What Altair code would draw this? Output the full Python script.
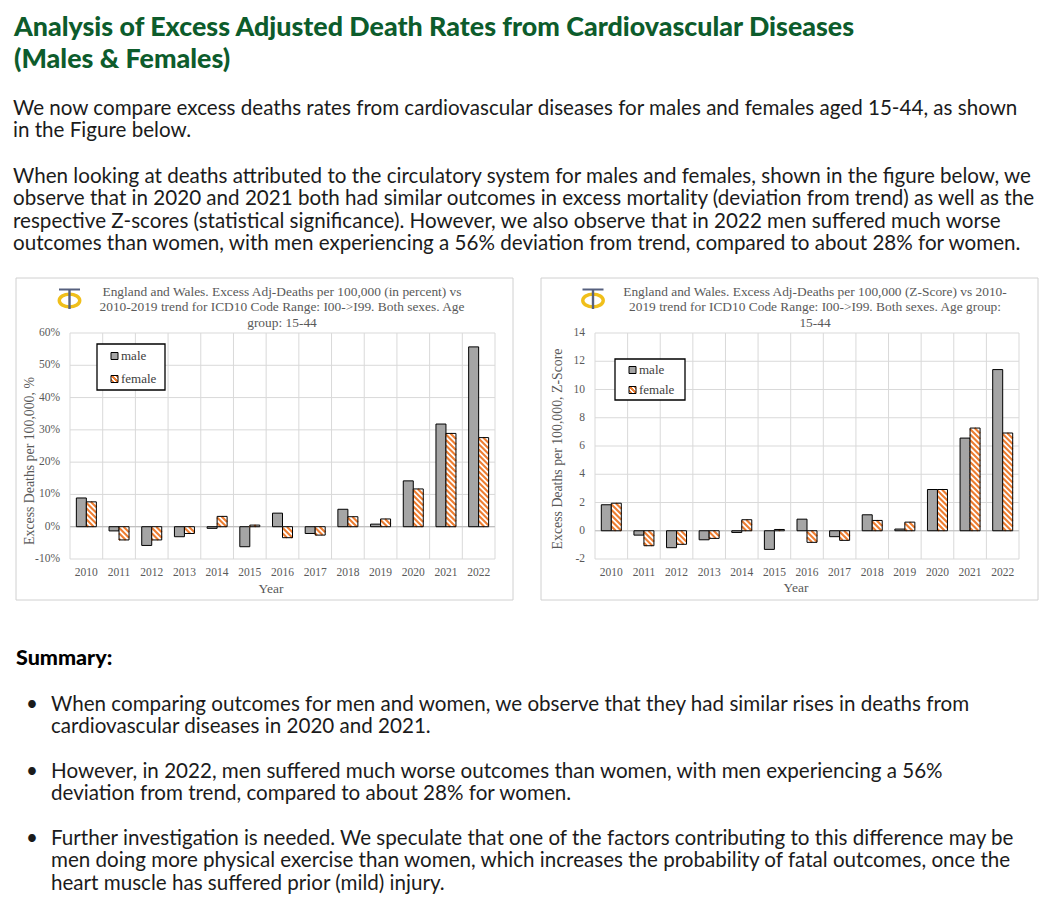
import altair as alt
import pandas as pd

# ---------------- data ----------------
years = list(range(2010, 2023))
sexes = ["male", "female"]
male_pct = [8.9, -1.3, -5.8, -3.1, -0.5, -6.2, 4.2, -2.1, 5.4, 0.8, 14.2, 31.8, 55.7]
female_pct = [7.7, -4.1, -4.1, -2.1, 3.2, 0.5, -3.4, -2.6, 3.1, 2.4, 11.7, 28.9, 27.6]
male_z = [1.84, -0.31, -1.2, -0.64, -0.12, -1.32, 0.82, -0.42, 1.13, 0.12, 2.92, 6.56, 11.41]
female_z = [1.95, -1.06, -0.96, -0.54, 0.78, 0.09, -0.82, -0.68, 0.73, 0.61, 2.92, 7.27, 6.92]
pct_ticks = [-10, 0, 10, 20, 30, 40, 50, 60]
z_ticks = [-2, 0, 2, 4, 6, 8, 10, 12, 14]

heading = ["Analysis of Excess Adjusted Death Rates from Cardiovascular Diseases",
           "(Males & Females)"]
para1 = ["We now compare excess deaths rates from cardiovascular diseases for males and females aged 15-44, as shown",
         "in the Figure below."]
para2 = ["When looking at deaths attributed to the circulatory system for males and females, shown in the figure below, we",
         "observe that in 2020 and 2021 both had similar outcomes in excess mortality (deviation from trend) as well as the",
         "respective Z-scores (statistical significance). However, we also observe that in 2022 men suffered much worse",
         "outcomes than women, with men experiencing a 56% deviation from trend, compared to about 28% for women."]
summary_title = "Summary:"
bullets = [
    ["When comparing outcomes for men and women, we observe that they had similar rises in deaths from",
     "cardiovascular diseases in 2020 and 2021."],
    ["However, in 2022, men suffered much worse outcomes than women, with men experiencing a 56%",
     "deviation from trend, compared to about 28% for women."],
    ["Further investigation is needed. We speculate that one of the factors contributing to this difference may be",
     "men doing more physical exercise than women, which increases the probability of fatal outcomes, once the",
     "heart muscle has suffered prior (mild) injury."],
]
left_title = ["England and Wales. Excess Adj-Deaths per 100,000 (in percent) vs",
              "2010-2019 trend for ICD10 Code Range: I00->I99. Both sexes. Age",
              "group: 15-44"]
right_title = ["England and Wales. Excess Adj-Deaths per 100,000 (Z-Score) vs 2010-",
               "2019 trend for ICD10 Code Range: I00->I99. Both sexes. Age group:",
               "15-44"]
left_ytitle = "Excess Deaths per 100,000, %"
right_ytitle = "Excess Deaths per 100,000, Z-Score"
x_title = "Year"

# ---------------- style ----------------
SERIF = "Liberation Serif"
SANS = "Lato"
GRID = "#d9d9d9"
AXIS_TXT = "#595959"
MALE = "#a5a5a5"
ORANGE = "#ed7d31"
GREEN = "#0d5c2c"
BODY = "#1b1b1b"
GOLD = "#f0bf1a"
NAVY = "#56607e"
BODY_SIZE = 20.6

H = 226
OY = 332
BAR_PX = 10
STRIPE = 5.5
ONE = pd.DataFrame({"_": [0]})


def long_df(m, f):
    n = len(years)
    return pd.DataFrame({
        "year": [str(y) for y in years] * 2,
        "idx": list(range(n)) * 2,
        "sex": [sexes[0]] * n + [sexes[1]] * n,
        "v": list(m) + list(f),
    })


def text_layer(lines, x, y, **kw):
    t = lines if isinstance(lines, str) else (lines if len(lines) > 1 else lines[0])
    return alt.Chart(ONE).mark_text(text=t, **kw).encode(x=alt.value(x), y=alt.value(y))


def rect_layer(x1, y1, x2, y2, **kw):
    return alt.Chart(ONE).mark_rect(**kw).encode(
        x=alt.value(x1), x2=alt.value(x2), y=alt.value(y1), y2=alt.value(y2))


def rule_layer(x1, y1, x2, y2, **kw):
    return alt.Chart(ONE).mark_rule(**kw).encode(
        x=alt.value(x1), x2=alt.value(x2), y=alt.value(y1), y2=alt.value(y2))


HATCH_FILL = {
    "gradient": "linear", "x1": 0, "y1": 1, "x2": 1, "y2": 0,
    "stops": [
        {"offset": 0.0, "color": "white"}, {"offset": 0.12, "color": "white"},
        {"offset": 0.12, "color": ORANGE}, {"offset": 0.3, "color": ORANGE},
        {"offset": 0.3, "color": "white"}, {"offset": 0.45, "color": "white"},
        {"offset": 0.45, "color": ORANGE}, {"offset": 0.62, "color": ORANGE},
        {"offset": 0.62, "color": "white"}, {"offset": 0.78, "color": "white"},
        {"offset": 0.78, "color": ORANGE}, {"offset": 0.95, "color": ORANGE},
        {"offset": 0.95, "color": "white"}, {"offset": 1.0, "color": "white"},
    ],
}


def panel(m, f, ymin, ymax, ticks, suffix, W, ox, titles, title_cx, ytitle, ytitle_xy,
          box, legend_box, swatch_cx, legend_text_x, legend_ys, logo_cx, xtitle_xy, extra=()):
    n = len(years)
    kx = W / n
    ky = H / (ymax - ymin)
    bw = BAR_PX / kx
    df = long_df(m, f)
    xs = alt.Scale(domain=[0, n], nice=False, zero=False)
    ys = alt.Scale(domain=[ymin, ymax], nice=False, zero=False)

    def X(fld):
        return alt.X(fld, type="quantitative", scale=xs, axis=None)

    def Y(fld):
        return alt.Y(fld, type="quantitative", scale=ys, axis=None)

    def px(v):
        return v - ox

    def py(v):
        return v - OY

    base = alt.Chart(df)
    bars = base.transform_calculate(
        xa=f"datum.sex == 'male' ? datum.idx + 0.5 - {bw} : datum.idx + 0.5",
        xb=f"datum.sex == 'male' ? datum.idx + 0.5 : datum.idx + 0.5 + {bw}",
        z0="0",
    )
    tick_df = pd.DataFrame({"t": ticks})

    outer = rect_layer(px(box[0]), py(box[1]), px(box[2]), py(box[3]),
                       fill="white", stroke="#d0d0d0", strokeWidth=1)

    vgrid = alt.Chart(pd.DataFrame({"b": list(range(n + 1))})).mark_rule(
        color=GRID, strokeWidth=1).encode(x=X("b:Q"), y=alt.value(0), y2=alt.value(H))
    hgrid = alt.Chart(tick_df).mark_rule(color=GRID, strokeWidth=1).encode(
        y=Y("t:Q"), x=alt.value(0), x2=alt.value(W))
    ylabels = alt.Chart(tick_df).transform_calculate(lab=f"datum.t + '{suffix}'").mark_text(
        align="right", baseline="middle", font=SERIF, fontSize=11.5, color=AXIS_TXT).encode(
        y=Y("t:Q"), x=alt.value(-10), text="lab:N")
    zero = alt.Chart(tick_df).transform_filter("datum.t == 0").mark_rule(
        color="#bfbfbf", strokeWidth=1.2).encode(y=Y("t:Q"), x=alt.value(0), x2=alt.value(W))

    male_bars = bars.transform_filter("datum.sex == 'male'").mark_rect(
        fill=MALE, stroke="black", strokeWidth=1).encode(
        x=X("xa:Q"), x2="xb:Q", y=Y("v:Q"), y2="z0:Q")
    fem_fill = bars.transform_filter("datum.sex == 'female'").mark_rect(
        fill="white").encode(x=X("xa:Q"), x2="xb:Q", y=Y("v:Q"), y2="z0:Q")
    fem_line = bars.transform_filter("datum.sex == 'female'").mark_rect(
        fillOpacity=0, stroke="black", strokeWidth=1).encode(
        x=X("xa:Q"), x2="xb:Q", y=Y("v:Q"), y2="z0:Q")

    hatch = (base.transform_filter("datum.sex == 'female'")
             .transform_calculate(k="sequence(0, 90)")
             .transform_flatten(["k"])
             .transform_calculate(x0p=f"(datum.idx + 0.5) * {kx}")
             .transform_calculate(x1p=f"datum.x0p + {BAR_PX}")
             .transform_calculate(ytp=f"({ymax} - max(datum.v, 0)) * {ky}")
             .transform_calculate(ybp=f"({ymax} - min(datum.v, 0)) * {ky}")
             .transform_calculate(c=f"datum.ytp - datum.x1p + datum.k * {STRIPE}")
             .transform_calculate(xs_="max(datum.x0p, datum.ytp - datum.c)")
             .transform_calculate(xe_="min(datum.x1p, datum.ybp - datum.c)")
             .transform_filter("datum.xe_ > datum.xs_ + 0.4")
             .transform_calculate(hx1=f"datum.xs_ / {kx}")
             .transform_calculate(hx2=f"datum.xe_ / {kx}")
             .transform_calculate(hy1=f"{ymax} - (datum.xs_ + datum.c) / {ky}")
             .transform_calculate(hy2=f"{ymax} - (datum.xe_ + datum.c) / {ky}")
             .mark_rule(color=ORANGE, strokeWidth=2.1, strokeCap="butt")
             .encode(x=X("hx1:Q"), x2="hx2:Q", y=Y("hy1:Q"), y2="hy2:Q"))

    year_labels = base.transform_filter("datum.sex == 'male'").transform_calculate(
        xc="datum.idx + 0.5").mark_text(
        font=SERIF, fontSize=11.5, color=AXIS_TXT, baseline="middle", align="center").encode(
        x=X("xc:Q"), y=alt.value(py(572)), text="year:N")

    title = text_layer(titles, px(title_cx), py(294.5), font=SERIF, fontSize=13.4,
                       color=AXIS_TXT, align="center", baseline="alphabetic", lineHeight=15.5)
    ytl = text_layer(ytitle, px(ytitle_xy[0]), py(ytitle_xy[1]), font=SERIF, fontSize=13.8,
                     color=AXIS_TXT, angle=270, align="center", baseline="middle")
    xtl = text_layer(x_title, px(xtitle_xy[0]), py(xtitle_xy[1]), font=SERIF, fontSize=13.5,
                     color=AXIS_TXT, align="center", baseline="middle")

    lb = rect_layer(px(legend_box[0]), py(legend_box[1]), px(legend_box[2]), py(legend_box[3]),
                    fill="white", stroke="black", strokeWidth=1.3)
    s = 3.5
    sw_m = rect_layer(px(swatch_cx - s), py(legend_ys[0] - s), px(swatch_cx + s), py(legend_ys[0] + s),
                      fill=MALE, stroke="black", strokeWidth=1)
    sw_f = rect_layer(px(swatch_cx - s), py(legend_ys[1] - s), px(swatch_cx + s), py(legend_ys[1] + s),
                      fill=HATCH_FILL, stroke="black", strokeWidth=1)
    lt_m = text_layer(sexes[0], px(legend_text_x), py(legend_ys[0]), font=SERIF, fontSize=13,
                      color="#404040", align="left", baseline="middle")
    lt_f = text_layer(sexes[1], px(legend_text_x), py(legend_ys[1]), font=SERIF, fontSize=13,
                      color="#404040", align="left", baseline="middle")

    logo_ring = alt.Chart(ONE).mark_point(
        shape="M -1 0 A 1 0.62 0 1 1 1 0 A 1 0.62 0 1 1 -1 0 Z", size=420, filled=False,
        stroke=GOLD, strokeWidth=3.4, opacity=1).encode(x=alt.value(px(logo_cx)), y=alt.value(py(299.5)))
    logo_stem = rule_layer(px(logo_cx), py(288), px(logo_cx), py(308), color=NAVY, strokeWidth=2.4)
    logo_bar = rule_layer(px(logo_cx - 10.5), py(288.5), px(logo_cx + 10.5), py(288.5), color=NAVY, strokeWidth=2)

    layers = list(extra) + [outer, vgrid, hgrid, zero, ylabels, male_bars, fem_fill, hatch, fem_line,
                            year_labels, title, ytl, xtl, lb, sw_m, sw_f, lt_m, lt_f,
                            logo_ring, logo_stem, logo_bar]
    return alt.layer(*layers).properties(width=W, height=H)


# ---------------- page text (drawn in the left panel's frame) ----------------
LOX = 69


def pxl(v):
    return v - LOX


def pyl(v):
    return v - OY


anchor = rect_layer(pxl(8), pyl(8), pxl(9), pyl(9), fill="white", opacity=0)
page_layers = [anchor,
               text_layer(heading, pxl(13), pyl(35), font=SANS, fontSize=26.8, fontWeight=900,
                          color=GREEN, align="left", baseline="alphabetic", lineHeight=32),
               text_layer(para1, pxl(12), pyl(113.5), font=SANS, fontSize=BODY_SIZE, color=BODY,
                          align="left", baseline="alphabetic", lineHeight=22.3),
               text_layer(para2, pxl(12), pyl(182), font=SANS, fontSize=BODY_SIZE, color=BODY,
                          align="left", baseline="alphabetic", lineHeight=22.3),
               text_layer(summary_title, pxl(15), pyl(664), font=SANS, fontSize=21.5, fontWeight=900,
                          color="black", align="left", baseline="alphabetic")]
for lines, b in zip(bullets, [709.5, 777, 844]):
    page_layers.append(text_layer("•", pxl(31), pyl(b), font=SANS, fontSize=BODY_SIZE, color=BODY,
                                  align="center", baseline="alphabetic"))
    page_layers.append(text_layer(lines, pxl(50), pyl(b), font=SANS, fontSize=BODY_SIZE, color=BODY,
                                  align="left", baseline="alphabetic", lineHeight=22.3))

left = panel(male_pct, female_pct, -10, 60, pct_ticks, "%", 425, LOX, left_title, 281,
             left_ytitle, (29, 460), (15, 277, 512, 599), (96, 343, 164, 389), 113.5, 120,
             (355, 378), 68.5, (270, 588), extra=page_layers)
right = panel(male_z, female_z, -2, 14, z_ticks, "", 424, 594, right_title, 814,
              right_ytitle, (557, 448), (540, 277, 1037, 599), (614, 358, 684, 399), 631.5, 638,
              (369, 389), 592, (795, 587))

chart = (alt.hconcat(left, right, spacing=100, bounds="flush")
         .properties(padding=0, background="white")
         .configure_view(stroke=GRID))

chart.save("out.html", embed_options={"renderer": "svg", "actions": False})
